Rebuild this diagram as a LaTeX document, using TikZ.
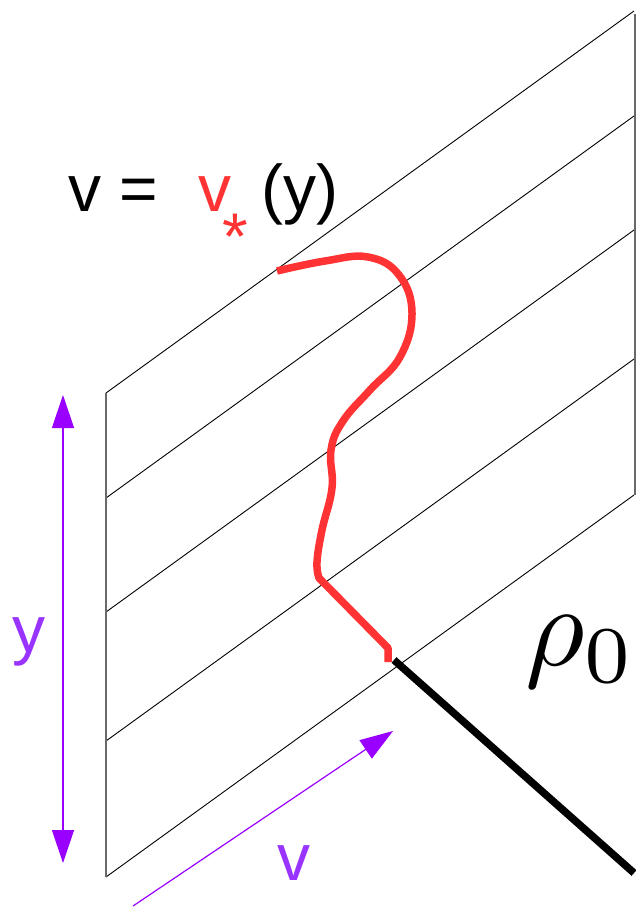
\documentclass[tikz,border=0pt]{standalone}
\usepackage{fontspec}
\setmainfont{Liberation Sans}
\usetikzlibrary{arrows.meta}
\definecolor{plred}{RGB}{255,51,51}
\definecolor{plpurple}{RGB}{153,0,255}
\definecolor{pllabel}{RGB}{153,51,255}
\definecolor{plgray}{RGB}{105,105,105}

\begin{document}
\begin{tikzpicture}[x=1pt,y=-1pt,
  lbl/.style={inner sep=0pt, font=\fontsize{66}{70}\selectfont},
  sheetline/.style={line width=0.9pt},
  sheetedge/.style={plgray, line width=2pt},
  axisarrow/.style={plpurple, line width=1.2pt, -{Triangle[length=33pt,width=22pt]}}]
\useasboundingbox (0,0) rectangle (636,909);
% Slanted sheet
\foreach \yl in {393,498,612,741,877}
  \draw[sheetline] (106,\yl) -- (634,\yl-382);
\draw[sheetedge] (106,393) -- (106,877);
\draw[sheetedge] (635,14) -- (635,495);
% Axes (left and bottom)
\draw[axisarrow, {Triangle[length=33pt,width=22pt]}-{Triangle[length=33pt,width=22pt]}] (63,395) -- (63,863);
\draw[axisarrow] (133,906) -- (393,731);
\node[lbl, pllabel, anchor=base west] (ylabel) at (12,652) {y};
\node[lbl, pllabel, anchor=base west] (vlabel) at (277,880) {v};
% Curve v = v_*(y)
\draw[plred, line width=7.5pt, line join=bevel]
  plot[smooth, tension=0.7] coordinates {(277,271) (325,261) (368,257) (399,275) (412,313) (400,357) (370,390) (343,421) (331,450) (332,488) (322,530) (317,562) (319,578)}
  -- (388,648) -- (388,662);
% Half line rho_0
\draw[line width=7.5pt] (394,660) -- (634,873);
\node[anchor=base west, inner sep=0pt] (rho) at (525,665) {\scalebox{11.5}{$\rho_0$}};
% Title
\node[lbl, anchor=base west] (eqlhs) at (68,212) {v =};
\node[lbl, plred, anchor=base west] (vstar) at (198,212) {v};
\node[lbl, plred, anchor=north west] (star) at (222,214) {*};
\node[lbl, anchor=base west] (arg) at (261,212) {(y)};
\end{tikzpicture}
\end{document}
